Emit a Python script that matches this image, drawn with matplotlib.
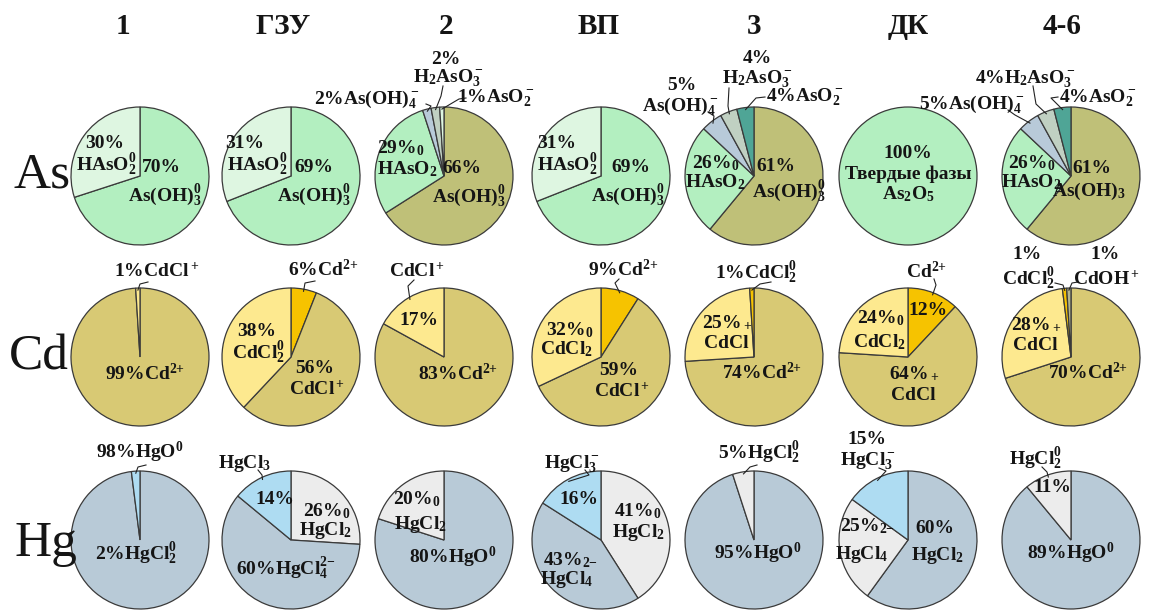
import matplotlib
matplotlib.use('Agg')
import matplotlib.pyplot as plt
import numpy as np

plt.rcParams['mathtext.fontset'] = 'custom'
plt.rcParams['mathtext.rm'] = 'Liberation Serif:bold'
plt.rcParams['mathtext.it'] = 'Liberation Serif:bold'
plt.rcParams['mathtext.bf'] = 'Liberation Serif:bold'
plt.rcParams['mathtext.default'] = 'rm'

W, H = 1149, 610

# ---------------- data ----------------
columns = ['1', 'ГЗУ', '2', 'ВП', '3', 'ДК', '4-6']
elements = ['As', 'Cd', 'Hg']

# slice values, clockwise from 12 o'clock
as_values = [[70, 30], [69, 31], [66, 29, 2, 2, 1], [69, 31],
             [61, 26, 5, 4, 4], [100], [61, 26, 5, 4, 4]]
cd_values = [[99, 1], [6, 56, 38], [83, 17], [9, 59, 32],
             [74, 25, 1], [12, 64, 24], [70, 28, 1, 1]]
hg_values = [[98, 2], [26, 60, 14], [80, 20], [41, 43, 16],
             [95, 5], [60, 25, 15], [89, 11]]
values = [as_values, cd_values, hg_values]

# ---------------- style ----------------
PALE = '#def6e1'; GREEN = '#b3efc0'; OLIVE = '#bfc078'
BLUEG = '#b8cad9'; GREYG = '#c0d0c2'; TEAL = '#4fa596'
KHAKI = '#d8c974'; LYEL = '#fde98f'; ORNG = '#f6c300'; CDOH = '#b3b58e'
HGB = '#b8cad7'; HGW = '#ececec'; HGL = '#aedcf2'

as_colors = [[GREEN, PALE], [GREEN, PALE], [OLIVE, GREEN, BLUEG, GREYG, PALE],
             [GREEN, PALE], [OLIVE, GREEN, BLUEG, GREYG, TEAL], [GREEN],
             [OLIVE, GREEN, BLUEG, GREYG, TEAL]]
cd_colors = [[KHAKI, LYEL], [ORNG, KHAKI, LYEL], [KHAKI, LYEL], [ORNG, KHAKI, LYEL],
             [KHAKI, LYEL, ORNG], [ORNG, KHAKI, LYEL], [KHAKI, LYEL, ORNG, CDOH]]
hg_colors = [[HGB, HGL], [HGW, HGB, HGL], [HGB, HGW], [HGW, HGB, HGL],
             [HGB, HGW], [HGB, HGW, HGL], [HGB, HGW]]
colors = [as_colors, cd_colors, hg_colors]

cx = [140, 291, 444, 601, 754, 908, 1071]
cy = [176, 357, 540]
R = 69

P2 = '^{2{+}}'
M2 = '{2{-}}'

# inner labels: (text, dx, dy) relative to pie centre (image px, y down)
as_inner = [
    [('30%', -35, -34), ('HAsO$_2^0$', -34, -12), ('70%', 21, -10), ('As(OH)$_3^0$', 25, 18)],
    [('31%', -46, -34), ('HAsO$_2^0$', -34, -12), ('69%', 23, -10), ('As(OH)$_3^0$', 23, 18)],
    [('29%$_0$', -43, -29), ('HAsO$_2$', -37, -8), ('66%', 18, -9), ('As(OH)$_3^0$', 25, 19)],
    [('31%', -44, -34), ('HAsO$_2^0$', -34, -12), ('69%', 30, -10), ('As(OH)$_3^0$', 27, 18)],
    [('26%$_0$', -38, -14), ('HAsO$_2$', -39, 5), ('61%', 22, -11), ('As(OH)$_3^0$', 35, 14)],
    [('100%', 0, -24), ('Твердые фазы', 0, -3), ('As$_2$O$_5$', 0, 17)],
    [('26%$_0$', -39, -14), ('HAsO$_2$', -40, 5), ('61%', 21, -9), ('As(OH)$_3$', 18, 14)],
]
cd_inner = [
    [('99%Cd$' + P2 + '$', 5, 17)],
    [('38%', -34, -27), ('CdCl$_2^0$', -33, -5), ('56%', 24, 10), ('CdCl$^+$', 26, 31)],
    [('17%', -25, -38), ('83%Cd$' + P2 + '$', 14, 17)],
    [('32%$_0$', -31, -28), ('CdCl$_2$', -35, -9), ('59%', 18, 12), ('CdCl$^+$', 21, 33)],
    [('25%$_+$', -27, -36), ('CdCl', -28, -15), ('74%Cd$' + P2 + '$', 8, 16)],
    [('12%', 20, -48), ('24%$_0$', -27, -40), ('CdCl$_2$', -29, -16), ('64%$_+$', 6, 15), ('CdCl', 5, 37)],
    [('28%$_+$', -35, -34), ('CdCl', -36, -13), ('70%Cd$' + P2 + '$', 17, 16)],
]
hg_inner = [
    [('2%HgCl$_2^0$', -4, 13)],
    [('14%', -16, -42), ('26%$_0$', 36, -30), ('HgCl$_2$', 34, -11), ('60%HgCl$_4^' + M2 + '$', -5, 28)],
    [('20%$_0$', -27, -42), ('HgCl$_2$', -24, -17), ('80%HgO$^0$', 9, 17)],
    [('16%', -22, -42), ('41%$_0$', 37, -30), ('HgCl$_2$', 37, -9), ('43%$_' + M2 + '$', -30, 19), ('HgCl$_4$', -34, 38)],
    [('95%HgO$^0$', 4, 13)],
    [('25%$_' + M2 + '$', -40, -15), ('HgCl$_4$', -46, 13), ('60%', 27, -13), ('HgCl$_2$', 29, 14)],
    [('11%', -19, -54), ('89%HgO$^0$', 0, 13)],
]
inner = [as_inner, cd_inner, hg_inner]

# outer labels: (row, text, x, y) in image px
outer = [
    (0, '2%', 446, 58), (0, 'H$_2$AsO$_3^-$', 448, 76), (0, '2%As(OH)$_4^-$', 367, 97), (0, '1%AsO$_2^-$', 496, 96),
    (0, '4%', 757, 57), (0, 'H$_2$AsO$_3^-$', 757, 77), (0, '5%', 682, 84), (0, 'As(OH)$_4^-$', 680, 104),
    (0, '4%AsO$_2^-$', 805, 95),
    (0, '4%H$_2$AsO$_3^-$', 1025, 77), (0, '5%As(OH)$_4^-$', 972, 102), (0, '4%AsO$_2^-$', 1098, 96),
    (1, '1%CdCl$^+$', 157, 270), (1, '6%Cd$' + P2 + '$', 323, 270), (1, 'CdCl$^+$', 417, 270),
    (1, '9%Cd$' + P2 + '$', 623, 270), (1, '1%CdCl$_2^0$', 756, 272), (1, 'Cd$' + P2 + '$', 927, 272),
    (1, '1%', 1027, 253), (1, 'CdCl$_2^0$', 1028, 278), (1, '1%', 1105, 253), (1, 'CdOH$^+$', 1106, 278),
    (2, '98%HgO$^0$', 140, 452), (2, 'HgCl$_3$', 244, 462), (2, 'HgCl$_3^-$', 572, 462),
    (2, '5%HgCl$_2^0$', 759, 452), (2, '15%', 867, 438), (2, 'HgCl$_3^-$', 868, 459),
    (2, 'HgCl$_2^0$', 1035, 458),
]

# leader lines: (row, col, slice index, start xy, bend xy)
leaders = [
    (0, 2, 2, (426, 104), (431, 106)), (0, 2, 3, (443, 86), (441, 96)), (0, 2, 4, (466, 98), (459, 99)),
    (0, 4, 2, (708, 112), (714, 116)), (0, 4, 3, (729, 88), (728, 106)), (0, 4, 4, (765, 97), (756, 98)),
    (0, 6, 2, (1008, 110), (1015, 115)), (0, 6, 3, (1033, 86), (1036, 104)), (0, 6, 4, (1058, 97), (1051, 98)),
    (1, 0, 1, (148, 282), (140, 284)), (1, 1, 0, (315, 281), (305, 283)), (1, 2, 1, (414, 280), (408, 286)),
    (1, 3, 0, (619, 279), (615, 283)), (1, 4, 2, (771, 282), (760, 284)), (1, 5, 0, (934, 279), (936, 285)),
    (1, 6, 2, (1055, 283), (1063, 285)), (1, 6, 3, (1078, 282), (1072, 283)),
    (2, 0, 1, (146, 465), (138, 467)), (2, 1, 2, (258, 470), (262, 475)), (2, 3, 2, (585, 470), (589, 475)),
    (2, 4, 1, (757, 465), (750, 467)), (2, 5, 2, (879, 468), (886, 471)), (2, 6, 1, (1042, 467), (1047, 472)),
]

TXT = '#151515'
fig = plt.figure(figsize=(W / 100, H / 100), dpi=100)
ax = fig.add_axes([0, 0, 1, 1])


def text(x, y, s, fs=14, family='Liberation Serif', weight='bold'):
    em = fs * 100 / 72
    ax.text(x, H - (y + 0.33 * em), s, fontsize=fs, family=family, weight=weight,
            ha='center', va='baseline', color=TXT, zorder=5)


for r in range(3):
    for c in range(7):
        ax.pie(values[r][c], colors=colors[r][c], startangle=90, counterclock=False,
               center=(cx[c], H - cy[r]), radius=R,
               wedgeprops=dict(edgecolor='#3a3a3a', linewidth=0.9))
        for s, dx, dy in inner[r][c]:
            text(cx[c] + dx, cy[r] + dy, s)

for r, s, x, y in outer:
    text(x, y, s)

for r, c, i, st, bd in leaders:
    v = np.array(values[r][c], dtype=float)
    cum = v.cumsum() - v / 2
    ang = np.deg2rad(90 - 360 * cum[i] / v.sum())
    ex = cx[c] + 0.97 * R * np.cos(ang)
    ey = cy[r] - 0.97 * R * np.sin(ang)
    ax.plot([st[0], bd[0], ex], [H - st[1], H - bd[1], H - ey], color='#222222', lw=0.8, zorder=4)

title_x = [123, 283, 446, 599, 754, 908, 1062]
for c, t in enumerate(columns):
    ax.text(title_x[c], H - 26, t, fontsize=21, family='Liberation Serif', weight='bold',
            ha='center', va='center', color=TXT)

row_y = [188, 369, 556]
row_x = [13, 9, 15]
for r, e in enumerate(elements):
    ax.text(row_x[r], H - row_y[r], e, fontsize=37, family='Liberation Serif',
            ha='left', va='baseline', color=TXT)

ax.set_xlim(0, W)
ax.set_ylim(0, H)
ax.set_aspect('equal')
ax.axis('off')
fig.savefig('out.png', dpi=100, facecolor='white')
